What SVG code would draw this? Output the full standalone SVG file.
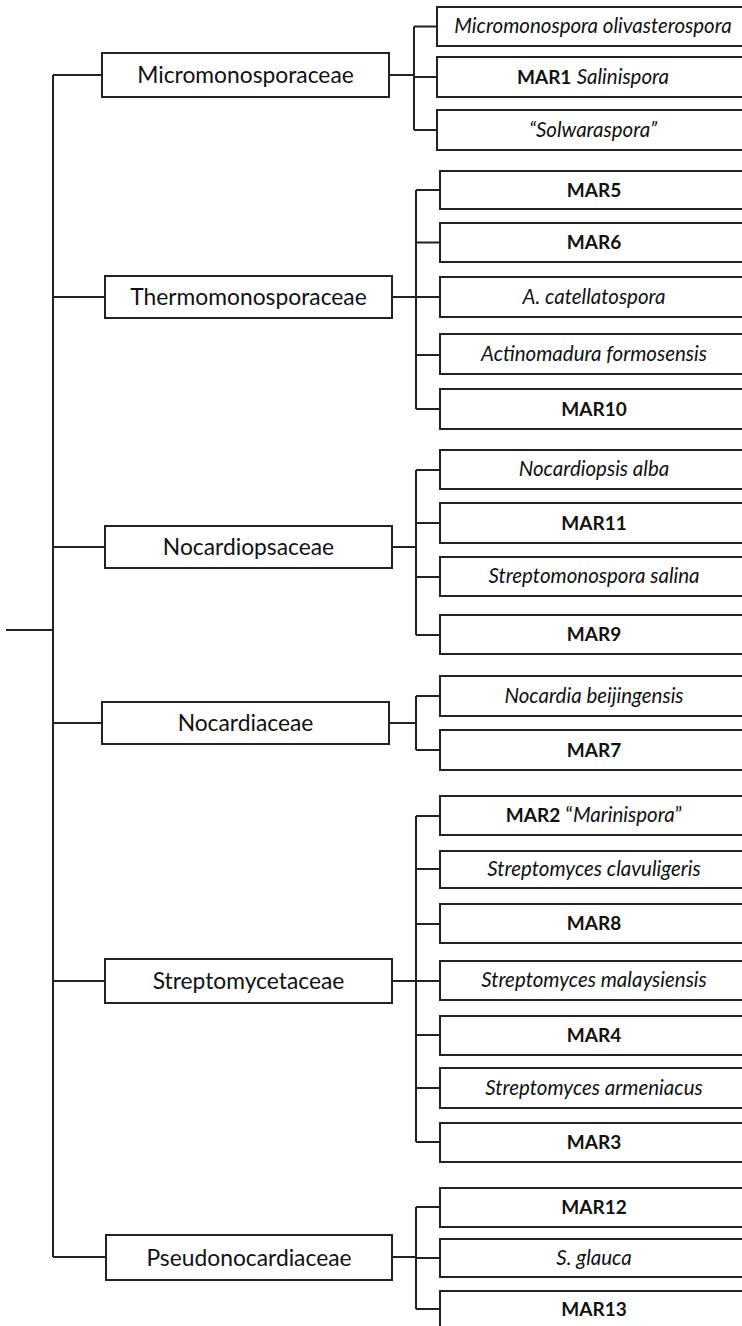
<svg xmlns="http://www.w3.org/2000/svg" width="742" height="1326" viewBox="0 0 742 1326">
<style>
  .box { fill: #fff; stroke: #222; stroke-width: 2; }
  .ln { fill: none; stroke: #222; stroke-width: 2; }
  .fam { font-family: Lato, "Liberation Sans", sans-serif; font-size: 22.8px; fill: #111; text-anchor: middle; }
  .sp { font-family: Lato, "Liberation Sans", sans-serif; font-size: 20.5px; fill: #111; text-anchor: middle; }
  .i { font-style: italic; }
  .b { font-weight: bold; font-size: 19px; }
</style>
<rect width="742" height="1326" fill="#fff"/>
<g id="connectors">
  <path class="ln" d="M6 630H53M53 75V1257"/>
  <path class="ln" d="M53 75H102M53 297H105M53 547H105M53 723H102M53 981H105M53 1257H106"/>
  <path class="ln" d="M389 75H414M414 26.5V130M414 26.5H437M414 77H437M414 130H437"/>
  <path class="ln" d="M392 297H416M416 190V409M416 190H440M416 242.5H440M416 297H440M416 355H440M416 409H440"/>
  <path class="ln" d="M392 547H416M416 470V635M416 470H440M416 523H440M416 577H440M416 635H440"/>
  <path class="ln" d="M389 723H416M416 696V750M416 696H440M416 750H440"/>
  <path class="ln" d="M392 981H416M416 816V1142M416 816H440M416 869H440M416 924H440M416 981H440M416 1035H440M416 1088H440M416 1142H440"/>
  <path class="ln" d="M392 1257H416M416 1207V1309M416 1207H440M416 1258H440M416 1309H440"/>
</g>
<g id="fam-micromonosporaceae"><rect class="box" x="102" y="53" width="287" height="44"/><text class="fam" x="245.5" y="83">Micromonosporaceae</text></g>
<g id="fam-thermomonosporaceae"><rect class="box" x="105" y="276" width="287" height="42"/><text class="fam" x="248.5" y="305">Thermomonosporaceae</text></g>
<g id="fam-nocardiopsaceae"><rect class="box" x="105" y="526" width="287" height="42"/><text class="fam" x="248.5" y="555">Nocardiopsaceae</text></g>
<g id="fam-nocardiaceae"><rect class="box" x="102" y="702" width="287" height="42"/><text class="fam" x="245.5" y="731">Nocardiaceae</text></g>
<g id="fam-streptomycetaceae"><rect class="box" x="105" y="959" width="287" height="44"/><text class="fam" x="248.5" y="989">Streptomycetaceae</text></g>
<g id="fam-pseudonocardiaceae"><rect class="box" x="106" y="1235" width="286" height="45"/><text class="fam" x="249" y="1265.5">Pseudonocardiaceae</text></g>

<g id="sp-micromonospora-olivasterospora"><rect class="box" x="437" y="7" width="320" height="39"/><text class="sp i" x="593" y="33">Micromonospora olivasterospora</text></g>
<g id="sp-mar1"><rect class="box" x="437" y="57" width="320" height="40"/><text class="sp" x="593" y="83.5"><tspan class="b">MAR1</tspan> <tspan class="i">Salinispora</tspan></text></g>
<g id="sp-solwaraspora"><rect class="box" x="437" y="110" width="320" height="40"/><text class="sp i" x="593" y="136.5">“Solwaraspora”</text></g>

<g id="sp-mar5"><rect class="box" x="440" y="171" width="320" height="38"/><text class="sp b" x="594" y="196.5">MAR5</text></g>
<g id="sp-mar6"><rect class="box" x="440" y="223" width="320" height="39"/><text class="sp b" x="594" y="249">MAR6</text></g>
<g id="sp-a-catellatospora"><rect class="box" x="440" y="277" width="320" height="40"/><text class="sp i" x="594" y="303.5">A. catellatospora</text></g>
<g id="sp-actinomadura-formosensis"><rect class="box" x="440" y="334" width="320" height="40"/><text class="sp i" x="594" y="360.5">Actinomadura formosensis</text></g>
<g id="sp-mar10"><rect class="box" x="440" y="389" width="320" height="40"/><text class="sp b" x="594" y="415.5">MAR10</text></g>

<g id="sp-nocardiopsis-alba"><rect class="box" x="440" y="450" width="320" height="39"/><text class="sp i" x="594" y="476">Nocardiopsis alba</text></g>
<g id="sp-mar11"><rect class="box" x="440" y="503" width="320" height="40"/><text class="sp b" x="594" y="529.5">MAR11</text></g>
<g id="sp-streptomonospora-salina"><rect class="box" x="440" y="557" width="320" height="39"/><text class="sp i" x="594" y="583">Streptomonospora salina</text></g>
<g id="sp-mar9"><rect class="box" x="440" y="615" width="320" height="39"/><text class="sp b" x="594" y="641">MAR9</text></g>

<g id="sp-nocardia-beijingensis"><rect class="box" x="440" y="676" width="320" height="40"/><text class="sp i" x="594" y="702.5">Nocardia beijingensis</text></g>
<g id="sp-mar7"><rect class="box" x="440" y="730" width="320" height="40"/><text class="sp b" x="594" y="756.5">MAR7</text></g>

<g id="sp-mar2"><rect class="box" x="440" y="796" width="320" height="39"/><text class="sp" x="594" y="822"><tspan class="b">MAR2</tspan> “<tspan class="i">Marinispora</tspan>”</text></g>
<g id="sp-streptomyces-clavuligeris"><rect class="box" x="440" y="851" width="320" height="37"/><text class="sp i" x="594" y="876">Streptomyces clavuligeris</text></g>
<g id="sp-mar8"><rect class="box" x="440" y="904" width="320" height="39"/><text class="sp b" x="594" y="930">MAR8</text></g>
<g id="sp-streptomyces-malaysiensis"><rect class="box" x="440" y="961" width="320" height="39"/><text class="sp i" x="594" y="987">Streptomyces malaysiensis</text></g>
<g id="sp-mar4"><rect class="box" x="440" y="1016" width="320" height="39"/><text class="sp b" x="594" y="1042">MAR4</text></g>
<g id="sp-streptomyces-armeniacus"><rect class="box" x="440" y="1068" width="320" height="40"/><text class="sp i" x="594" y="1094.5">Streptomyces armeniacus</text></g>
<g id="sp-mar3"><rect class="box" x="440" y="1123" width="320" height="39"/><text class="sp b" x="594" y="1149">MAR3</text></g>

<g id="sp-mar12"><rect class="box" x="440" y="1188" width="320" height="39"/><text class="sp b" x="594" y="1214">MAR12</text></g>
<g id="sp-s-glauca"><rect class="box" x="440" y="1239" width="320" height="38"/><text class="sp i" x="594" y="1264.5">S. glauca</text></g>
<g id="sp-mar13"><rect class="box" x="440" y="1291" width="320" height="40"/><text class="sp b" x="594" y="1316">MAR13</text></g>
</svg>
